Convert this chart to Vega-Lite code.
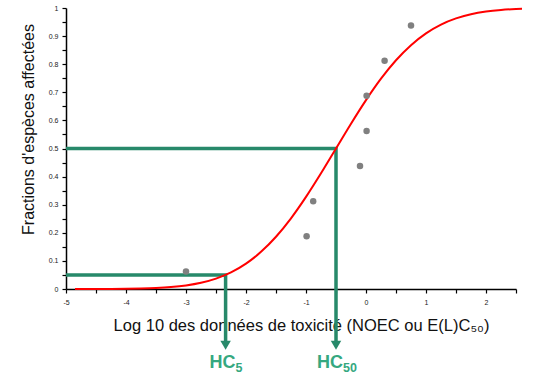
{
  "$schema": "https://vega.github.io/schema/vega-lite/v6.json",
  "width": 450,
  "height": 281,
  "autosize": {"type": "none"},
  "padding": {"left": 66, "top": 8, "right": 26, "bottom": 90},
  "background": "white",
  "config": {"view": {"stroke": null}, "font": "Liberation Sans"},
  "datasets": {
    "curve": [
      {"x": -4.85, "y": 0.00005}, {"x": -4.5, "y": 0.00018}, {"x": -4.25, "y": 0.00041},
      {"x": -4.0, "y": 0.00089}, {"x": -3.75, "y": 0.00185}, {"x": -3.5, "y": 0.0037},
      {"x": -3.25, "y": 0.00704}, {"x": -3.0, "y": 0.0128}, {"x": -2.75, "y": 0.0223},
      {"x": -2.5, "y": 0.0371}, {"x": -2.25, "y": 0.059}, {"x": -2.0, "y": 0.0902},
      {"x": -1.75, "y": 0.1322}, {"x": -1.5, "y": 0.1859}, {"x": -1.25, "y": 0.2515},
      {"x": -1.0, "y": 0.3277}, {"x": -0.75, "y": 0.4117}, {"x": -0.5, "y": 0.5},
      {"x": -0.25, "y": 0.5883}, {"x": 0.0, "y": 0.6723}, {"x": 0.25, "y": 0.7485},
      {"x": 0.5, "y": 0.8141}, {"x": 0.75, "y": 0.8678}, {"x": 1.0, "y": 0.9098},
      {"x": 1.25, "y": 0.941}, {"x": 1.5, "y": 0.9629}, {"x": 1.75, "y": 0.9777},
      {"x": 2.0, "y": 0.9872}, {"x": 2.25, "y": 0.993}, {"x": 2.5, "y": 0.9963},
      {"x": 2.6, "y": 0.9972}
    ],
    "pts": [
      {"x": -3.0, "y": 0.0625}, {"x": -0.99, "y": 0.1875}, {"x": -0.88, "y": 0.3125},
      {"x": -0.1, "y": 0.4375}, {"x": 0.01, "y": 0.5625}, {"x": 0.01, "y": 0.6875},
      {"x": 0.31, "y": 0.8125}, {"x": 0.75, "y": 0.9375}
    ],
    "guides": [
      {"g": "HC5", "o": 1, "x": -5, "y": 0.05},
      {"g": "HC5", "o": 2, "x": -2.34, "y": 0.05},
      {"g": "HC5", "o": 3, "x": -2.34, "y": -0.185},
      {"g": "HC50", "o": 1, "x": -5, "y": 0.5},
      {"g": "HC50", "o": 2, "x": -0.5, "y": 0.5},
      {"g": "HC50", "o": 3, "x": -0.5, "y": -0.185}
    ],
    "arrows": [
      {"x": -2.34, "y": -0.2},
      {"x": -0.5, "y": -0.2}
    ],
    "lab5": [{"x": -2.34, "y": -0.262, "t": "HC", "s": "5"}],
    "lab50": [{"x": -0.5, "y": -0.262, "t": "HC", "s": "50"}]
  },
  "encoding": {
    "x": {
      "field": "x", "type": "quantitative",
      "scale": {"domain": [-5, 2.5], "nice": false, "zero": false},
      "axis": {
        "values": [-5, -4.5, -4, -3.5, -3, -2.5, -2, -1.5, -1, -0.5, 0, 0.5, 1, 1.5, 2, 2.5],
        "labelExpr": "datum.value % 1 == 0 ? '' + datum.value : ''",
        "grid": false, "domainColor": "black", "domainWidth": 1.5,
        "tickColor": "black", "tickWidth": 1.2, "tickSize": 4,
        "labelFontSize": 7, "labelColor": "#222", "labelPadding": 5, "labelFont": "Liberation Sans",
        "labelFlush": false, "labelOverlap": false,
        "title": "Log 10 des données de toxicité (NOEC ou E(L)C₅₀)",
        "titleFont": "Liberation Sans", "titleFontSize": 16.5, "titleFontWeight": "normal",
        "titleColor": "#111", "titleX": 235, "titleY": 28, "titleBaseline": "top"
      }
    },
    "y": {
      "field": "y", "type": "quantitative",
      "scale": {"domain": [0, 1], "nice": false, "zero": false},
      "axis": {
        "values": [0, 0.05, 0.1, 0.15, 0.2, 0.25, 0.3, 0.35, 0.4, 0.45, 0.5, 0.55, 0.6, 0.65, 0.7, 0.75, 0.8, 0.85, 0.9, 0.95, 1],
        "format": ".1~f",
        "labelExpr": "round(datum.value * 20) % 2 == 0 ? datum.label : ''",
        "grid": false, "domainColor": "black", "domainWidth": 1.5,
        "tickColor": "black", "tickWidth": 1.2, "tickSize": 4,
        "labelFontSize": 7, "labelColor": "#222", "labelPadding": 4, "labelFont": "Liberation Sans",
        "labelFlush": false, "labelOverlap": false,
        "title": "Fractions d'espèces affectées",
        "titleFont": "Liberation Sans", "titleFontSize": 16, "titleFontWeight": "normal",
        "titleColor": "#111", "titleX": -30, "titleY": 121, "titleAngle": -90, "titleBaseline": "bottom"
      }
    }
  },
  "layer": [
    {
      "data": {"name": "guides"},
      "mark": {"type": "line", "color": "#27896a", "strokeWidth": 3.5, "strokeJoin": "miter"},
      "encoding": {
        "detail": {"field": "g", "type": "nominal"},
        "order": {"field": "o", "type": "quantitative"}
      }
    },
    {
      "data": {"name": "arrows"},
      "mark": {"type": "point", "shape": "triangle-down", "filled": true, "color": "#27896a", "opacity": 1, "size": 110},
      "encoding": {}
    },
    {
      "data": {"name": "curve"},
      "mark": {"type": "line", "color": "#ff0000", "strokeWidth": 2, "interpolate": "monotone"},
      "encoding": {}
    },
    {
      "data": {"name": "pts"},
      "mark": {"type": "circle", "color": "#808080", "opacity": 1, "size": 42},
      "encoding": {}
    },
    {
      "data": {"name": "lab5"},
      "mark": {"type": "text", "color": "#35a880", "fontSize": 18, "fontWeight": "bold", "font": "Liberation Sans", "align": "right", "baseline": "middle", "dx": 10},
      "encoding": {"text": {"field": "t"}}
    },
    {
      "data": {"name": "lab5"},
      "mark": {"type": "text", "color": "#35a880", "fontSize": 12.5, "fontWeight": "bold", "font": "Liberation Sans", "align": "left", "baseline": "middle", "dx": 10, "dy": 5},
      "encoding": {"text": {"field": "s"}}
    },
    {
      "data": {"name": "lab50"},
      "mark": {"type": "text", "color": "#35a880", "fontSize": 18, "fontWeight": "bold", "font": "Liberation Sans", "align": "right", "baseline": "middle", "dx": 7},
      "encoding": {"text": {"field": "t"}}
    },
    {
      "data": {"name": "lab50"},
      "mark": {"type": "text", "color": "#35a880", "fontSize": 12.5, "fontWeight": "bold", "font": "Liberation Sans", "align": "left", "baseline": "middle", "dx": 7, "dy": 5},
      "encoding": {"text": {"field": "s"}}
    }
  ]
}
